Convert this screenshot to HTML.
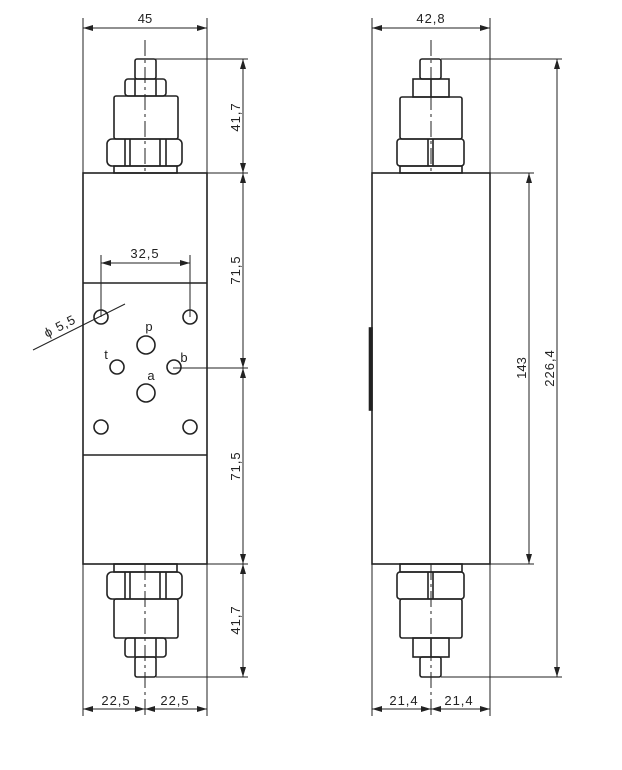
<!DOCTYPE html>
<html><head><style>html,body{margin:0;padding:0;background:#fff}svg{display:block}</style></head>
<body>
<svg width="622" height="770" viewBox="0 0 622 770" xmlns="http://www.w3.org/2000/svg" font-family="Liberation Sans, sans-serif" font-size="13" fill="none" stroke="#222">
<defs>
<marker id="a" viewBox="0 0 10 6" refX="10" refY="3" markerWidth="10" markerHeight="6" orient="auto-start-reverse" markerUnits="userSpaceOnUse"><path d="M0,0L10,3L0,6z" fill="#222" stroke="none"/></marker>
</defs>
<!-- LEFT VIEW -->
<g stroke-width="1">
<line x1="83" y1="18" x2="83" y2="716"/><line x1="207" y1="18" x2="207" y2="716"/>
<line x1="83" y1="28" x2="207" y2="28" marker-start="url(#a)" marker-end="url(#a)"/>
<line x1="145" y1="40" x2="145" y2="173" stroke-dasharray="16,4,3,4"/>
<line x1="145" y1="564" x2="145" y2="716" stroke-dasharray="16,4,3,4"/>
<line x1="155" y1="59" x2="248" y2="59"/>
<line x1="207" y1="173" x2="248" y2="173"/>
<line x1="207" y1="564" x2="248" y2="564"/>
<line x1="156" y1="677" x2="248" y2="677"/>
<line x1="173" y1="368" x2="248" y2="368"/>
<line x1="243" y1="59" x2="243" y2="173" marker-start="url(#a)" marker-end="url(#a)"/>
<line x1="243" y1="173" x2="243" y2="368" marker-start="url(#a)" marker-end="url(#a)"/>
<line x1="243" y1="368" x2="243" y2="564" marker-start="url(#a)" marker-end="url(#a)"/>
<line x1="243" y1="564" x2="243" y2="677" marker-start="url(#a)" marker-end="url(#a)"/>
<line x1="83" y1="709" x2="145" y2="709" marker-start="url(#a)" marker-end="url(#a)"/>
<line x1="145" y1="709" x2="207" y2="709" marker-start="url(#a)" marker-end="url(#a)"/>
<line x1="101" y1="255" x2="101" y2="317"/><line x1="190" y1="255" x2="190" y2="317"/>
<line x1="101" y1="263" x2="190" y2="263" marker-start="url(#a)" marker-end="url(#a)"/>
<line x1="33" y1="350" x2="125" y2="304"/>
</g>
<g stroke-width="1.6">
<rect x="83" y="173" width="124" height="391"/>
<line x1="83" y1="283" x2="207" y2="283"/><line x1="83" y1="455" x2="207" y2="455"/>
<circle cx="101" cy="317" r="7"/><circle cx="190" cy="317" r="7"/>
<circle cx="146" cy="345" r="9"/><circle cx="117" cy="367" r="7"/>
<circle cx="174" cy="367" r="7"/><circle cx="146" cy="393" r="9"/>
<circle cx="101" cy="427" r="7"/><circle cx="190" cy="427" r="7"/>
<rect x="135" y="59" width="21" height="20" rx="2"/>
<rect x="125" y="79" width="41" height="17" rx="3"/>
<line x1="135" y1="79" x2="135" y2="96"/><line x1="156" y1="79" x2="156" y2="96"/>
<rect x="114" y="96" width="64" height="43" rx="2"/>
<rect x="107" y="139" width="75" height="27" rx="5"/>
<line x1="125" y1="139" x2="125" y2="166"/><line x1="130" y1="139" x2="130" y2="166"/>
<line x1="160" y1="139" x2="160" y2="166"/><line x1="166" y1="139" x2="166" y2="166"/>
<rect x="114" y="166" width="63" height="7"/>
<rect x="114" y="564" width="63" height="8"/>
<rect x="107" y="572" width="75" height="27" rx="5"/>
<line x1="125" y1="572" x2="125" y2="599"/><line x1="130" y1="572" x2="130" y2="599"/>
<line x1="160" y1="572" x2="160" y2="599"/><line x1="166" y1="572" x2="166" y2="599"/>
<rect x="114" y="599" width="64" height="39" rx="2"/>
<rect x="125" y="638" width="41" height="19" rx="3"/>
<line x1="135" y1="638" x2="135" y2="657"/><line x1="156" y1="638" x2="156" y2="657"/>
<rect x="135" y="657" width="21" height="20" rx="2"/>
</g>
<g fill="#222" stroke="none">
<text x="145" y="23" text-anchor="middle">45</text>
<text x="145" y="258" text-anchor="middle" letter-spacing="1">32,5</text>
<text x="149" y="331" text-anchor="middle">p</text>
<text x="106" y="359" text-anchor="middle">t</text>
<text x="184" y="362" text-anchor="middle">b</text>
<text x="151" y="380" text-anchor="middle">a</text>
<text x="116" y="705" text-anchor="middle" letter-spacing="1">22,5</text>
<text x="175" y="705" text-anchor="middle" letter-spacing="1">22,5</text>
<text transform="translate(62,330) rotate(-27)" text-anchor="middle" letter-spacing="1">ϕ 5,5</text>
<text transform="translate(240,117) rotate(-90)" text-anchor="middle" letter-spacing="1">41,7</text>
<text transform="translate(240,270) rotate(-90)" text-anchor="middle" letter-spacing="1">71,5</text>
<text transform="translate(240,466) rotate(-90)" text-anchor="middle" letter-spacing="1">71,5</text>
<text transform="translate(240,620) rotate(-90)" text-anchor="middle" letter-spacing="1">41,7</text>
</g>
<!-- RIGHT VIEW -->
<g stroke-width="1">
<line x1="372" y1="18" x2="372" y2="716"/><line x1="490" y1="18" x2="490" y2="716"/>
<line x1="372" y1="28" x2="490" y2="28" marker-start="url(#a)" marker-end="url(#a)"/>
<line x1="431" y1="40" x2="431" y2="173" stroke-dasharray="16,4,3,4"/>
<line x1="431" y1="564" x2="431" y2="716" stroke-dasharray="16,4,3,4"/>
<line x1="441" y1="59" x2="562" y2="59"/>
<line x1="490" y1="173" x2="534" y2="173"/>
<line x1="490" y1="564" x2="534" y2="564"/>
<line x1="441" y1="677" x2="562" y2="677"/>
<line x1="529" y1="173" x2="529" y2="564" marker-start="url(#a)" marker-end="url(#a)"/>
<line x1="557" y1="59" x2="557" y2="677" marker-start="url(#a)" marker-end="url(#a)"/>
<line x1="372" y1="709" x2="431" y2="709" marker-start="url(#a)" marker-end="url(#a)"/>
<line x1="431" y1="709" x2="490" y2="709" marker-start="url(#a)" marker-end="url(#a)"/>
</g>
<g stroke-width="1.6">
<rect x="372" y="173" width="118" height="391"/>
<rect x="369.5" y="328" width="2.5" height="82" fill="#222"/>
<rect x="420" y="59" width="21" height="20" rx="2"/>
<rect x="413" y="79" width="36" height="18"/>
<line x1="431" y1="79" x2="431" y2="97"/>
<rect x="400" y="97" width="62" height="42" rx="2"/>
<rect x="397" y="139" width="67" height="27" rx="3"/>
<line x1="428" y1="139" x2="428" y2="166"/><line x1="433" y1="139" x2="433" y2="166"/>
<rect x="400" y="166" width="62" height="7"/>
<rect x="400" y="564" width="62" height="8"/>
<rect x="397" y="572" width="67" height="27" rx="3"/>
<line x1="428" y1="572" x2="428" y2="599"/><line x1="433" y1="572" x2="433" y2="599"/>
<rect x="400" y="599" width="62" height="39" rx="2"/>
<rect x="413" y="638" width="36" height="19"/>
<line x1="431" y1="638" x2="431" y2="657"/>
<rect x="420" y="657" width="21" height="20" rx="2"/>
</g>
<g fill="#222" stroke="none">
<text x="431" y="23" text-anchor="middle" letter-spacing="1">42,8</text>
<text x="404" y="705" text-anchor="middle" letter-spacing="1">21,4</text>
<text x="459" y="705" text-anchor="middle" letter-spacing="1">21,4</text>
<text transform="translate(526,368) rotate(-90)" text-anchor="middle">143</text>
<text transform="translate(554,368) rotate(-90)" text-anchor="middle" letter-spacing="1">226,4</text>
</g>
</svg>
</body></html>
